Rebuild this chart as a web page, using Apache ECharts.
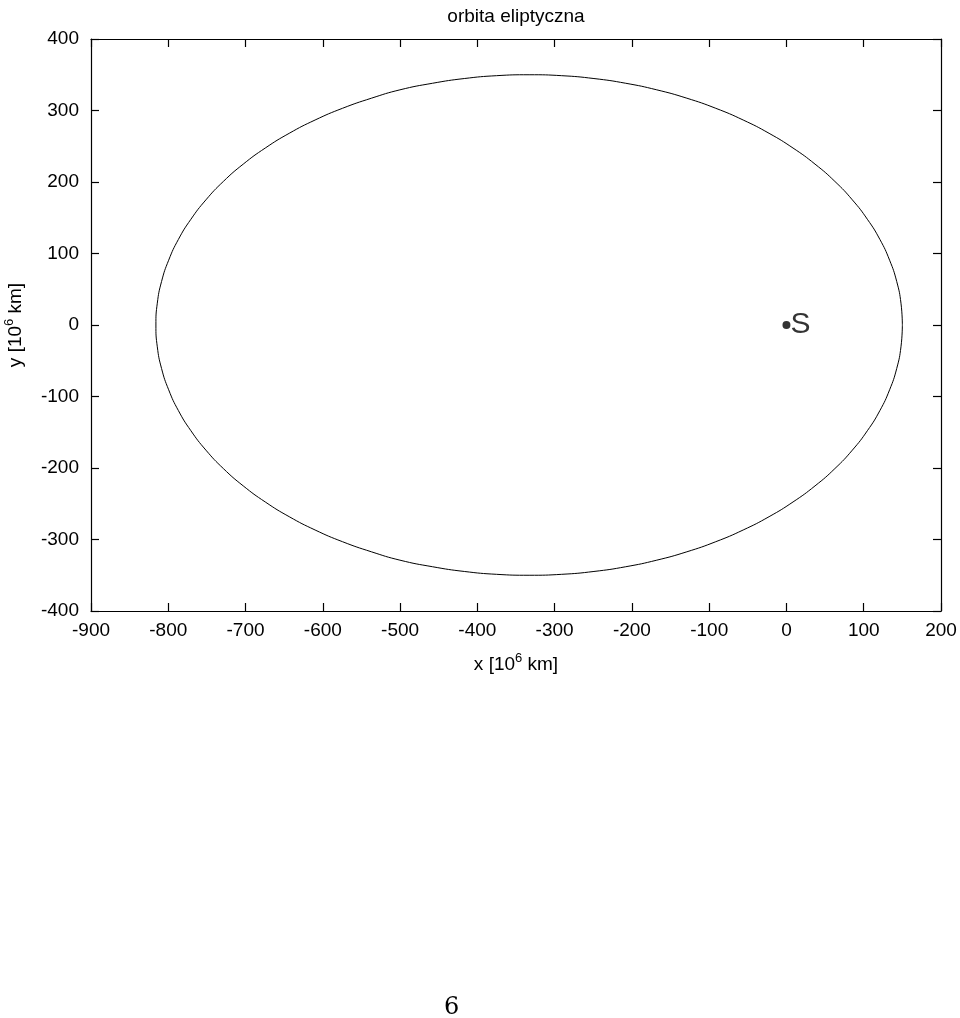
<!DOCTYPE html>
<html>
<head>
<meta charset="utf-8">
<script src="https://cdn.jsdelivr.net/npm/echarts@6/dist/echarts.min.js"></script>
<style>html,body{margin:0;padding:0;background:#fff}#c{width:960px;height:1018px}</style>
</head>
<body>
<div id="c"></div>
<script>
// Orbit points (x, y in 10^6 km)
var orbitX = [150, 148.2, 142.7, 133.5, 120.9, 104.7, 85.3, 62.7, 37.0, 8.5, -22.5, -56.0, -91.5, -128.9, -167.8, -208.0, -249.1, -290.9, -333,
              -375.1, -416.9, -458.0, -500.2, -537.1, -574.5, -610.0, -643.5, -674.5, -703.0, -728.7, -751.3, -770.7, -786.9, -799.5, -808.7, -814.2, -816,
              -814.2, -808.7, -799.5, -786.9, -770.7, -751.3, -728.7, -703.0, -674.5, -643.5, -610.0, -574.5, -537.1, -500.2, -458.0, -416.9, -375.1,
              -333, -290.9, -249.1, -208.0, -167.8, -128.9, -91.5, -56.0, -22.5, 8.5, 37.0, 62.7, 85.3, 104.7, 120.9, 133.5, 142.7, 148.2, 150];
var orbitY = [0, 30.5, 60.8, 90.6, 119.7, 147.9, 175, 200.8, 225.0, 247.5, 268.1, 286.7, 303.1, 317.2, 328.9, 338.1, 344.7, 348.7, 350,
              348.7, 344.7, 338.1, 328.9, 317.2, 303.1, 286.7, 268.1, 247.5, 225.0, 200.8, 175, 147.9, 119.7, 90.6, 60.8, 30.5, 0,
              -30.5, -60.8, -90.6, -119.7, -147.9, -175, -200.8, -225.0, -247.5, -268.1, -286.7, -303.1, -317.2, -328.9, -338.1, -344.7, -348.7,
              -350, -348.7, -344.7, -338.1, -328.9, -317.2, -303.1, -286.7, -268.1, -247.5, -225.0, -200.8, -175, -147.9, -119.7, -90.6, -60.8, -30.5, 0];
var sunPoint = [0, 0];
var sunLabel = 'S';
var xTicks = [-900, 200, 100];
var yTicks = [-400, 400, 100];
var titleText = 'orbita eliptyczna';
var pageNumber = '6';

var orbit = orbitX.map(function (x, i) { return [x, orbitY[i]]; });
var font = 'Liberation Sans, Arial, sans-serif';
var lineStyle = { color: '#000', width: 1.2 };
var supStyle = { fontSize: 13, verticalAlign: 'bottom', padding: [0, 0, 12, 0], fontFamily: font, color: '#000' };

function xAxisCfg(pos, show) {
  return {
    type: 'value', position: pos, min: xTicks[0], max: xTicks[1], interval: xTicks[2],
    axisLine: { show: true, onZero: false, lineStyle: lineStyle },
    axisTick: { show: true, inside: true, length: 8, lineStyle: lineStyle },
    axisLabel: { show: show, color: '#000', fontSize: 19, fontFamily: font, margin: 10 },
    splitLine: { show: false }
  };
}
function yAxisCfg(pos, show) {
  return {
    type: 'value', position: pos, min: yTicks[0], max: yTicks[1], interval: yTicks[2],
    axisLine: { show: true, onZero: false, lineStyle: lineStyle },
    axisTick: { show: true, inside: true, length: 8, lineStyle: lineStyle },
    axisLabel: { show: show, color: '#000', fontSize: 19, fontFamily: font, margin: 12 },
    splitLine: { show: false }
  };
}

var xa = xAxisCfg('bottom', true);
xa.name = 'x [10{sup|6} km]';
xa.nameLocation = 'middle';
xa.nameGap = 41;
xa.nameTextStyle = { color: '#000', fontSize: 19, fontFamily: font, rich: { sup: supStyle } };

var ya = yAxisCfg('left', true);
ya.name = 'y [10{sup|6} km]';
ya.nameLocation = 'middle';
ya.nameGap = 63;
ya.nameTextStyle = { color: '#000', fontSize: 19, fontFamily: font, rich: { sup: supStyle } };

var chart = echarts.init(document.getElementById('c'), null, { renderer: 'canvas' });
chart.setOption({
  backgroundColor: '#fff',
  animation: false,
  title: {
    text: titleText, left: 511, top: 2, textAlign: 'center',
    textStyle: { color: '#000', fontSize: 19, fontWeight: 'normal', fontFamily: font }
  },
  grid: { left: 91, right: 19, top: 39, bottom: 407, containLabel: false, outerBoundsMode: 'none' },
  xAxis: [xa, xAxisCfg('top', false)],
  yAxis: [ya, yAxisCfg('right', false)],
  series: [
    {
      type: 'line', data: orbit, smooth: true, symbol: 'none',
      lineStyle: { color: '#000', width: 1 }, xAxisIndex: 0, yAxisIndex: 0
    },
    {
      type: 'scatter', data: [sunPoint], symbol: 'circle', symbolSize: 8,
      itemStyle: { color: '#000' },
      label: { show: true, formatter: sunLabel, position: 'right', distance: 0, color: '#000', fontSize: 30, fontFamily: font }
    }
  ],
  graphic: [{
    type: 'text', left: 444, top: 996,
    style: { text: pageNumber, fill: '#000', fontSize: 24, fontFamily: 'DejaVu Serif, Liberation Serif, serif' }
  }]
});
</script>
</body>
</html>
